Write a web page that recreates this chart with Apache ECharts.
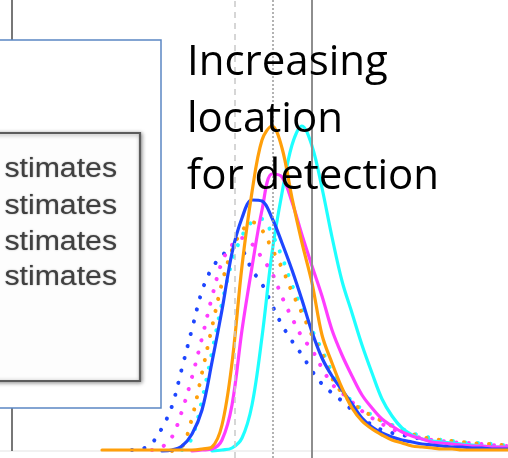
<!DOCTYPE html>
<html>
<head>
<meta charset="utf-8">
<script src="https://cdn.jsdelivr.net/npm/echarts@6/dist/echarts.min.js"></script>
<style>
  html, body { margin: 0; padding: 0; background: #ffffff; }
  #chart { width: 508px; height: 458px; }
</style>
</head>
<body>
<div id="chart"></div>
<script>
// Shared location grid for every density curve
const locations = [2.25, 2.5, 2.75, 3, 3.25, 3.5, 3.75, 4, 4.25, 4.5, 4.75, 5, 5.25, 5.5,
  5.75, 6, 6.25, 6.5, 6.75, 7, 7.25, 7.5, 7.75, 8, 8.25, 8.5, 8.75, 9, 9.25, 9.5, 9.75,
  10, 10.25, 10.5, 10.75, 11, 11.25, 11.5, 11.75, 12, 12.25, 12.5];

// Density (x1000) of each estimate along the location grid; null = not drawn yet
const blueSolid = [null, null, null, null, null, null, 0, 1, 5, 17, 41, 89, 141, 198, 233,
  251, 250, 233, 208, 181, 151, 119, 93, 75, 61, 47, 33, 24, 18, 14, 11, 9, 7, 6, 5, 4, 4,
  3, 3, 2, 2, 2];
const orangeSolid = [1, 1, 1, 1, 1, 1, 1, 1, 1, 1, 2, 4, 26, 88, 185, 259, 311, 325, 303,
  253, 208, 168, 116, 88, 63, 43, 30, 22, 16, 11, 8, 5, 4, 3, 2, 2, 1, 1, 1, 1, 1, 1];
const magentaSolid = [null, null, null, null, null, null, null, null, null, 0, 1, 2, 11, 46,
  121, 184, 241, 277, 274, 249, 216, 185, 155, 121, 96, 75, 56, 43, 32, 25, 19, 15, 12, 9,
  8, 7, 6, 5, 5, 4, 4, 3];
const cyanSolid = [null, null, null, null, null, null, null, null, null, null, null, 0, 1, 3,
  13, 46, 114, 198, 258, 306, 325, 305, 263, 214, 170, 138, 106, 78, 52, 35, 23, 16, 12,
  10, 9, 8, 7, 6, 5, 4, 4, 3];

const blueDotted = [null, null, null, 1, 2, 8, 23, 45, 83, 122, 160, 183, 195, 204, 201,
  181, 167, 146, 126, 110, 96, 80, 67, 58, 50, 41, 33, 26, 21, 18, 16, 14, 12, 10, 9, 8, 7,
  6, 5, 5, 4, 4];
const magentaDotted = [null, null, null, null, null, 1, 4, 14, 40, 74, 113, 154, 189, 206,
  213, 207, 193, 178, 154, 133, 114, 101, 83, 67, 58, 49, 40, 33, 27, 22, 18, 15, 13, 11,
  10, 9, 8, 8, 7, 6, 5, 5];
const orangeDotted = [null, null, null, null, null, null, null, 0, 4, 33, 78, 124, 168, 201,
  220, 229, 221, 202, 183, 159, 138, 116, 98, 73, 58, 48, 41, 35, 30, 25, 21, 17, 14, 12,
  11, 10, 9, 8, 7, 7, 6, 5];
const cyanDotted = [null, null, null, null, null, null, null, null, 1, 13, 51, 99, 148, 189,
  215, 229, 232, 217, 194, 166, 143, 121, 101, 79, 61, 50, 42, 36, 30, 26, 22, 18, 15, 13,
  11, 10, 9, 8, 8, 7, 6, 6];

// Reference locations marked with vertical rules
const refDashed = 5.58;
const refDotted = 6.52;
const refSolid = 7.5;

// Legend rows (left part of the legend lies outside the view)
const legendRows = ['stimates', 'stimates', 'stimates', 'stimates'];
const noteLines = ['Increasing', 'location', 'for detection'];

const COLORS = { blue: '#1e46ff', orange: '#ff9f0a', magenta: '#ff3cff', cyan: '#1effff' };

function pairs(values) {
  const out = [];
  values.forEach((v, i) => { if (v !== null) out.push([locations[i], v]); });
  return out;
}

function curve(name, values, color, dotted, z) {
  return {
    type: 'line',
    name: name,
    data: pairs(values),
    smooth: 0.35,
    showSymbol: false,
    symbol: 'none',
    silent: true,
    z: z,
    lineStyle: dotted
      ? { color: color, width: 4, type: [0.1, 12.5], cap: 'round' }
      : { color: color, width: 3.2, cap: 'round', join: 'round' }
  };
}

const chart = echarts.init(document.getElementById('chart'), null, { renderer: 'canvas' });

const legendY = [170, 207, 243, 278];
const noteY = [63, 120, 177];
const densityTop = 451;

chart.setOption({
  animation: false,
  backgroundColor: '#ffffff',
  grid: { left: 0, right: 0, top: 0, bottom: 0 },
  xAxis: {
    type: 'value', min: -0.3, max: 12.4,
    axisLine: { show: true, onZero: true, lineStyle: { color: '#ececec', width: 1.5 } },
    axisTick: { show: false }, axisLabel: { show: false }, splitLine: { show: false }
  },
  yAxis: {
    type: 'value', min: -7, max: densityTop,
    axisLine: { show: false },
    axisTick: { show: false }, axisLabel: { show: false }, splitLine: { show: false }
  },
  series: [
    {
      type: 'line', data: [], silent: true, z: 1,
      markLine: {
        silent: true, symbol: 'none', label: { show: false },
        data: [
          { xAxis: refDashed, lineStyle: { color: '#c9c9c9', width: 1.5, type: [6, 5] } },
          { xAxis: refDotted, lineStyle: { color: '#9a9a9a', width: 1.5, type: [2, 2] } },
          { xAxis: refSolid, lineStyle: { color: '#8e8e8e', width: 2, type: 'solid' } },
          // density axis
          [
            { coord: [0, 0], lineStyle: { color: '#4a4a4a', width: 1.5, type: 'solid' } },
            { coord: [0, densityTop] }
          ]
        ]
      }
    },
    curve('blue dotted', blueDotted, COLORS.blue, true, 2),
    curve('magenta dotted', magentaDotted, COLORS.magenta, true, 2),
    curve('cyan dotted', cyanDotted, COLORS.cyan, true, 2),
    curve('orange dotted', orangeDotted, COLORS.orange, true, 2),
    curve('cyan', cyanSolid, COLORS.cyan, false, 3),
    curve('magenta', magentaSolid, COLORS.magenta, false, 3),
    curve('blue', blueSolid, COLORS.blue, false, 3),
    curve('orange', orangeSolid, COLORS.orange, false, 3)
  ],
  graphic: [
    {
      type: 'rect', z: 20, silent: true,
      shape: { x: -10, y: 40, width: 171, height: 368 },
      style: { fill: '#ffffff', stroke: '#5b87c4', lineWidth: 1.5 }
    },
    {
      type: 'rect', z: 21, silent: true,
      shape: { x: -10, y: 133, width: 150, height: 248 },
      style: {
        fill: '#fdfdfd', stroke: '#5c5c5c', lineWidth: 2.2,
        shadowBlur: 4, shadowColor: 'rgba(0,0,0,0.4)', shadowOffsetX: 1, shadowOffsetY: 1
      }
    }
  ].concat(legendRows.map((t, i) => ({
    type: 'text', z: 22, silent: true,
    x: 117, y: legendY[i], scaleX: 1.12,
    style: {
      text: t, align: 'right', verticalAlign: 'middle',
      font: '27px "Liberation Sans", Arial, sans-serif', fill: '#404040',
      textShadowColor: 'rgba(60,60,60,0.55)', textShadowBlur: 1.5
    }
  }))).concat(noteLines.map((t, i) => ({
    type: 'text', z: 30, silent: true,
    x: 187, y: noteY[i],
    style: {
      text: t, align: 'left', verticalAlign: 'middle',
      font: '42px "Open Sans", sans-serif', fill: '#000000'
    }
  })))
});
</script>
</body>
</html>
